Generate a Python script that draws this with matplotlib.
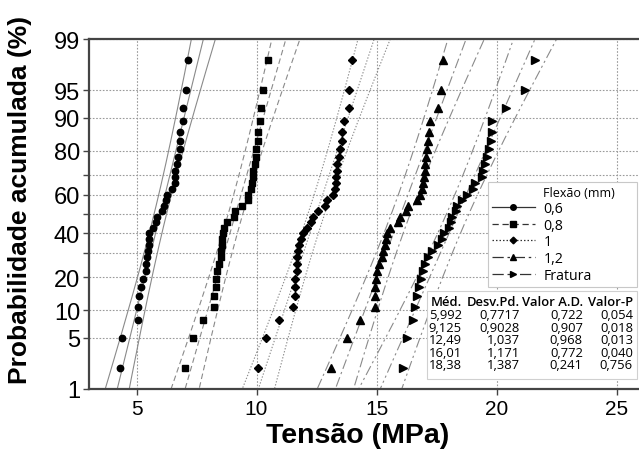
from statistics import NormalDist

import matplotlib.pyplot as plt
import numpy as np
from matplotlib.lines import Line2D
from matplotlib.patches import Rectangle

# --- data ------------------------------------------------------------------
SERIES = ["0,6", "0,8", "1", "1,2", "Fratura"]

X_06 = [4.31, 4.41, 5.08, 5.08, 5.09, 5.17, 5.28, 5.38, 5.40, 5.42, 5.49, 5.50,
        5.51, 5.51, 5.70, 5.81, 5.84, 6.05, 6.13, 6.23, 6.26, 6.49, 6.60, 6.62,
        6.62, 6.70, 6.73, 6.81, 6.81, 6.81, 6.93, 6.94, 7.05, 7.15]
X_08 = [7.02, 7.34, 7.78, 8.22, 8.22, 8.31, 8.31, 8.34, 8.45, 8.52, 8.54, 8.55,
        8.55, 8.59, 8.63, 8.76, 9.08, 9.10, 9.41, 9.65, 9.65, 9.76, 9.81, 9.84,
        9.85, 9.92, 9.96, 9.96, 10.08, 10.08, 10.16, 10.17, 10.28, 10.49]
X_10 = [10.08, 10.38, 10.94, 11.53, 11.59, 11.59, 11.62, 11.67, 11.67, 11.70,
        11.73, 11.78, 11.84, 11.95, 12.12, 12.26, 12.37, 12.58, 12.85, 12.92,
        13.20, 13.28, 13.31, 13.31, 13.34, 13.37, 13.45, 13.48, 13.55, 13.55,
        13.65, 13.87, 13.87, 13.98]
X_12 = [13.09, 13.76, 14.31, 14.94, 14.94, 14.94, 14.98, 15.04, 15.12, 15.22,
        15.29, 15.35, 15.40, 15.45, 15.56, 15.91, 15.98, 16.23, 16.33, 16.67,
        16.81, 16.88, 16.92, 16.98, 17.02, 17.02, 17.06, 17.12, 17.16, 17.20,
        17.23, 17.58, 17.67, 17.76]
X_FR = [16.09, 16.26, 16.54, 16.61, 16.67, 16.78, 16.84, 16.95, 17.02, 17.16,
        17.30, 17.58, 17.71, 17.81, 18.03, 18.10, 18.13, 18.31, 18.37, 18.55,
        18.76, 19.03, 19.12, 19.38, 19.45, 19.52, 19.62, 19.70, 19.76, 19.80,
        19.83, 20.40, 21.19, 21.60]

MEANS = [5.992, 9.125, 12.49, 16.01, 18.38]
STDS = [0.7717, 0.9028, 1.037, 1.171, 1.387]
AD_VALUES = [0.722, 0.907, 0.968, 0.772, 0.241]
P_VALUES = [0.054, 0.018, 0.013, 0.040, 0.756]

PROB_TICKS = [1, 5, 10, 20, 30, 40, 50, 60, 70, 80, 90, 95, 99]
PROB_LABELED = [1, 5, 10, 20, 40, 60, 80, 90, 95, 99]
X_TICKS = [5, 10, 15, 20, 25]

MARKERS = ["o", "s", "D", "^", ">"]
MSIZES = [4.6, 4.6, 4.0, 5.2, 5.2]
LSTYLES = ["-", (0, (5, 3)), (0, (1.2, 1.6)), (0, (9, 3, 2, 3)),
           (0, (9, 3, 2, 3, 2, 3))]
LINE_C = "#8a8a8a"

nd = NormalDist()


def z_of(pct):
    return nd.inv_cdf(pct / 100.0)


def comma(s):
    return s.replace(".", ",")


def main():
    data = [X_06, X_08, X_10, X_12, X_FR]

    fig = plt.figure(figsize=(6.39, 4.52), dpi=100)
    ax = fig.add_axes([0.1385, 0.1372, 0.8615, 0.7743])

    zlo, zhi = z_of(1), z_of(99)
    zz = np.linspace(-3.0, 3.0, 200)

    for xs, mu, sd, mk, ms, ls in zip(data, MEANS, STDS, MARKERS, MSIZES, LSTYLES):
        n = len(xs)
        ranks = np.arange(1, n + 1)
        pos = (ranks - 0.3) / (n + 0.4)  # Benard median ranks
        zpts = [nd.inv_cdf(p) for p in pos]
        # fitted line and 95% confidence bands
        fit = mu + sd * zz
        half = 1.96 * sd * np.sqrt((1 + zz ** 2 / 2) / n)
        for xl in (fit, fit - half, fit + half):
            ax.plot(xl, zz, color=LINE_C, lw=0.8, ls=ls, zorder=2)
        ax.plot(sorted(xs), zpts, ls="none", marker=mk, ms=ms, color="black",
                zorder=3)

    ax.set_xlim(3, 3 + 550.5 / 24)
    ax.set_ylim(zlo, zhi)

    ax.set_yticks([z_of(p) for p in PROB_TICKS])
    ax.set_yticklabels([str(p) if p in PROB_LABELED else "" for p in PROB_TICKS])
    ax.set_xticks(X_TICKS)
    ax.set_xticklabels([str(t) for t in X_TICKS])
    ax.tick_params(direction="out", length=4, width=1, colors="#444444",
                   labelcolor="black", pad=2)
    ax.tick_params(axis="y", labelsize=17)
    ax.tick_params(axis="x", labelsize=15, pad=3)
    for lab in ax.get_xticklabels() + ax.get_yticklabels():
        lab.set_family("Liberation Sans")

    ax.grid(True, color="#9a9a9a", lw=0.8, ls=(0, (1.5, 1.5)), zorder=1)
    for side in ("left", "top", "bottom"):
        ax.spines[side].set_color("#444444")
        ax.spines[side].set_linewidth(1.6)
    ax.spines["right"].set_visible(False)

    # legend, with the title as its own first row so it lines up with labels
    handles = [Line2D([], [], ls="none")]
    labels = ["Flexão (mm)"]
    for name, mk, ms, ls in zip(SERIES, MARKERS, MSIZES, LSTYLES):
        handles.append(Line2D([], [], color="#333333", lw=0.9, ls=ls,
                              marker=mk, ms=ms - 0.6, mfc="black", mec="black"))
        labels.append(name)
    leg = ax.legend(handles, labels, loc="upper left",
                    bbox_to_anchor=(0.7257, 0.2857, 0.2707, 0.3057),
                    mode="expand", borderaxespad=0,
                    prop={"family": "Open Sans", "size": 10.2},
                    handlelength=3.0, handletextpad=0.6, labelspacing=0.12,
                    borderpad=0.3, frameon=True, fancybox=False, framealpha=1)
    leg.get_frame().set_edgecolor("#c8c8c8")
    leg.get_frame().set_linewidth(0.8)
    leg.get_texts()[0].set_fontsize(9.0)
    leg.set_zorder(5)

    # statistics table
    ax.add_patch(Rectangle((0.615, 0.0286), 0.381, 0.2514, transform=ax.transAxes,
                           facecolor="white", edgecolor="#d0d0d0", lw=0.8,
                           zorder=5))
    col_x = [0.678, 0.784, 0.898, 0.989]
    row_y = [0.249, 0.213, 0.177, 0.141, 0.105, 0.069]
    headers = ["Méd.", "Desv.Pd.", "Valor A.D.", "Valor-P"]
    for cx, h in zip(col_x, headers):
        ax.text(cx, row_y[0], h, transform=ax.transAxes, ha="right", va="center",
                family="Open Sans", fontsize=9.4, fontweight="semibold", zorder=6)
    for i in range(len(SERIES)):
        cells = [comma(f"{MEANS[i]:.4g}"), comma(f"{STDS[i]:.4g}"),
                 comma(f"{AD_VALUES[i]:.3f}"), comma(f"{P_VALUES[i]:.3f}")]
        for cx, c in zip(col_x, cells):
            ax.text(cx, row_y[i + 1], c, transform=ax.transAxes, ha="right",
                    va="center", family="Open Sans", fontsize=9.4, zorder=6)

    fig.text(0.56, 1 - 436 / 452, "Tensão (MPa)", ha="center", va="center",
             family="Liberation Sans", fontsize=20.5, fontweight="bold")
    fig.text(0.031, 1 - 200 / 452, "Probabilidade acumulada (%)", ha="center",
             va="center", rotation=90, family="Liberation Sans", fontsize=19,
             fontweight="bold")

    fig.savefig("out.png", dpi=100)


if __name__ == "__main__":
    main()
